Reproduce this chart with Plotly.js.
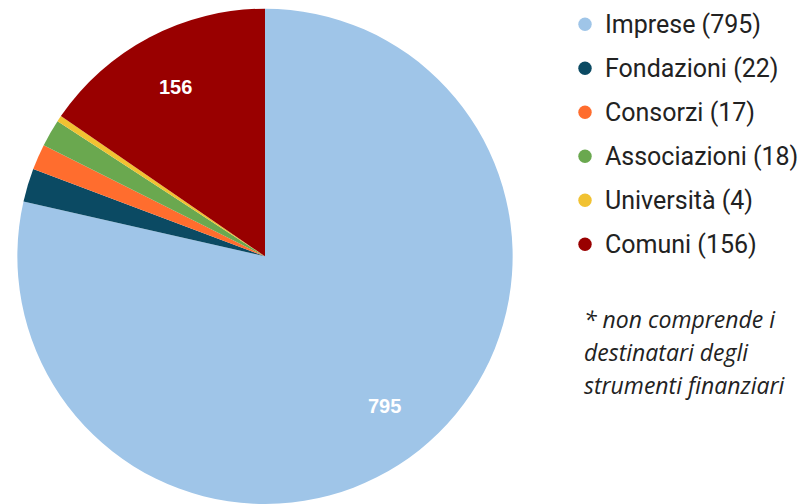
<!DOCTYPE html>
<html>
<head>
<meta charset="utf-8">
<script src="https://cdn.plot.ly/plotly-3.0.1.min.js"></script>
<style>
  html, body { margin: 0; padding: 0; background: #ffffff; }
  #chart { width: 807px; height: 504px; }
</style>
</head>
<body>
<div id="chart"></div>
<script>
const categories = ['Imprese', 'Fondazioni', 'Consorzi', 'Associazioni', 'Università', 'Comuni'];
const values = [795, 22, 17, 18, 4, 156];
const sliceColors = ['#9fc5e8', '#0b4a63', '#ff6d2e', '#6aa84f', '#f1c232', '#990000'];
const showValueLabel = [true, false, false, false, false, true];
const noteLines = ['* non comprende i', 'destinatari degli', 'strumenti finanziari'];

const W = 807, H = 504;
const px = x => x / W;
const py = y => 1 - y / H;

// pie geometry (pixels)
const pieLeft = 17, pieRight = 513, pieTop = 8.7;
const pie = {
  type: 'pie',
  labels: categories,
  values: values,
  sort: false,
  direction: 'clockwise',
  rotation: 0,
  marker: { colors: sliceColors, line: { width: 0 } },
  textinfo: 'none',
  hoverinfo: 'label+value',
  showlegend: false,
  domain: { x: [px(pieLeft), px(pieRight)], y: [0, py(pieTop)] }
};

const annotations = [];
const shapes = [];

// value labels inside slices, placed at slice mid-angle
const R = Math.min(pieRight - pieLeft, H - pieTop) / 2;
const cx = (pieLeft + pieRight) / 2;
const cy = pieTop + R;
const total = values.reduce((a, b) => a + b, 0);
let cum = 0;
values.forEach((v, i) => {
  const mid = (cum + v / 2) / total * 2 * Math.PI;
  cum += v;
  if (!showValueLabel[i]) return;
  const r = 0.772 * R;
  annotations.push({
    xref: 'paper', yref: 'paper',
    x: px(cx + r * Math.sin(mid)), y: py(cy - r * Math.cos(mid)),
    xanchor: 'center', yanchor: 'middle', showarrow: false,
    text: '<b>' + v + '</b>',
    font: { family: 'Liberation Sans, Arial, sans-serif', size: 20, color: '#ffffff' }
  });
});

// custom legend with round markers
const legendY0 = 24.3, legendStep = 44;
categories.forEach((c, i) => {
  const y = legendY0 + i * legendStep;
  shapes.push({
    type: 'circle', xref: 'paper', yref: 'paper',
    xsizemode: 'pixel', ysizemode: 'pixel',
    xanchor: px(585), yanchor: py(y),
    x0: -6.7, x1: 6.7, y0: -6.7, y1: 6.7,
    fillcolor: sliceColors[i], line: { width: 0 }
  });
  annotations.push({
    xref: 'paper', yref: 'paper', x: px(603), y: py(y),
    xanchor: 'left', yanchor: 'middle', showarrow: false,
    text: c + ' (' + values[i] + ')',
    font: { family: 'Roboto, sans-serif', size: 25, color: '#222222' }
  });
});
noteLines.forEach((t, i) => {
  annotations.push({
    xref: 'paper', yref: 'paper', x: px(582), y: py(319 + i * 33),
    xanchor: 'left', yanchor: 'middle', showarrow: false,
    text: '<i>' + t + '</i>',
    font: { family: 'Open Sans, sans-serif', size: 23, color: '#222222' }
  });
});

const layout = {
  width: W, height: H,
  margin: { l: 0, r: 0, t: 0, b: 0 },
  paper_bgcolor: '#ffffff',
  plot_bgcolor: '#ffffff',
  showlegend: false,
  shapes: shapes,
  annotations: annotations
};

Plotly.newPlot('chart', [pie], layout, { displayModeBar: false, staticPlot: true });
</script>
</body>
</html>
